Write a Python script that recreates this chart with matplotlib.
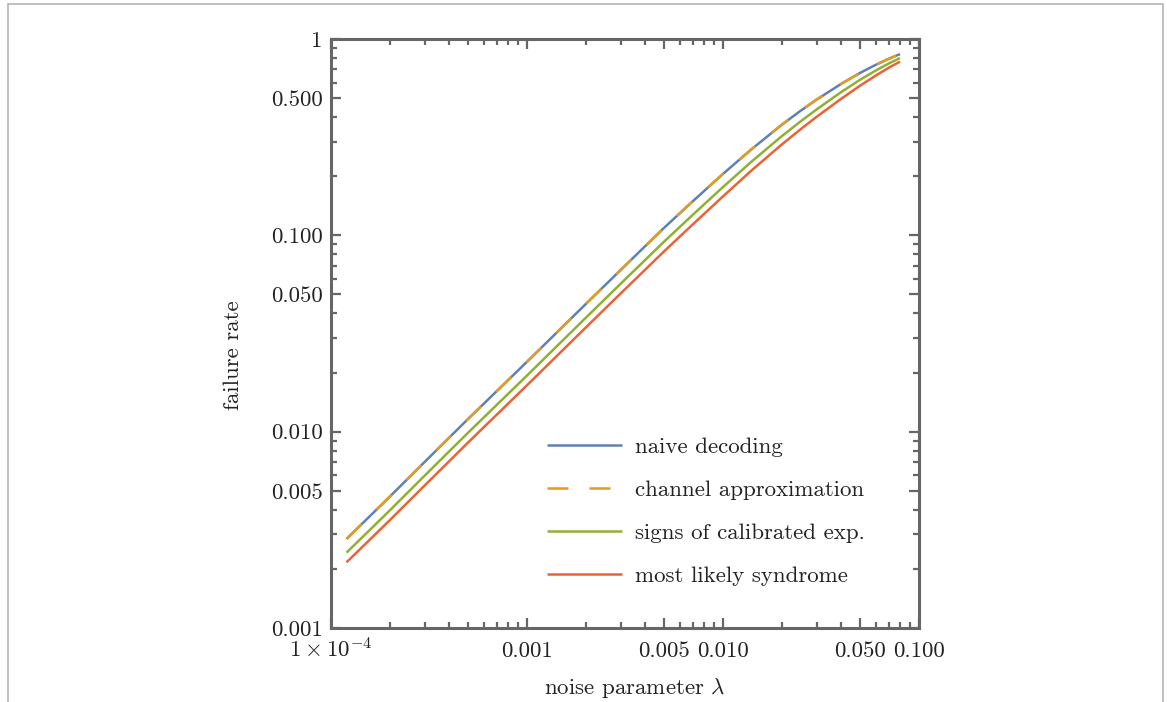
import matplotlib
matplotlib.use("Agg")
import matplotlib.pyplot as plt
from matplotlib.ticker import LogLocator, NullFormatter, FixedLocator, FixedFormatter
from matplotlib.patches import Rectangle

# ---- data ----
noise = [1.2e-4, 2e-4, 3e-4, 5e-4, 1e-3, 2e-3, 3e-3, 5e-3, 7e-3, 1e-2, 1.4e-2, 2e-2,
         2.5e-2, 3e-2, 4e-2, 5e-2, 6e-2, 7e-2, 8e-2]
naive = [0.00284, 0.00468, 0.00700, 0.0116, 0.0227, 0.0448, 0.0665, 0.1091, 0.1489, 0.2056,
         0.2748, 0.3664, 0.4325, 0.4909, 0.5902, 0.6714, 0.7379, 0.7925, 0.8375]
channel = [0.00284, 0.00468, 0.00700, 0.0116, 0.0227, 0.0448, 0.0665, 0.1091, 0.1489, 0.2056,
           0.2748, 0.3664, 0.4325, 0.4909, 0.5902, 0.6714, 0.7379, 0.7925, 0.8375]
signs = [0.00242, 0.00398, 0.00596, 0.00987, 0.01932, 0.03812, 0.0566, 0.0928, 0.1270, 0.1762,
         0.2377, 0.3206, 0.3819, 0.4374, 0.5359, 0.6197, 0.6899, 0.7497, 0.7998]
mls = [0.00216, 0.00355, 0.00531, 0.00880, 0.01723, 0.0340, 0.0505, 0.0828, 0.1135, 0.1579,
       0.2143, 0.2909, 0.3482, 0.4011, 0.4952, 0.5781, 0.6501, 0.7133, 0.7672]

xtick_vals = [1e-4, 1e-3, 5e-3, 1e-2, 5e-2, 1e-1]
xtick_labels = [r"$1\times10^{-4}$", "0.001", "0.005", "0.010", "0.050", "0.100"]
ytick_vals = [1e-3, 5e-3, 1e-2, 5e-2, 1e-1, 5e-1, 1]
ytick_labels = ["0.001", "0.005", "0.010", "0.050", "0.100", "0.500", "1"]

labels = ["naive decoding", "channel approximation", "signs of calibrated exp.", "most likely syndrome"]
colors = ["#5E81B5", "#E19C24", "#8FB032", "#EB6235"]

plt.rcParams["font.family"] = ["cmr10", "DejaVu Serif"]
plt.rcParams["mathtext.fontset"] = "cm"
plt.rcParams["axes.formatter.use_mathtext"] = True

FS = 16.5
W, H = 1167, 702
fig = plt.figure(figsize=(W / 100, H / 100), dpi=100)
ax = fig.add_axes([331 / W, 1 - 628 / H, (919 - 331) / W, (628 - 39) / H])

lw = 1.8
ax.plot(noise, naive, color=colors[0], lw=lw, label=labels[0], solid_capstyle="butt")
ax.plot(noise, channel, color=colors[1], lw=lw, label=labels[1], dashes=(8.4, 8.4), dash_capstyle="butt")
ax.plot(noise, signs, color=colors[2], lw=lw, label=labels[2], solid_capstyle="butt")
ax.plot(noise, mls, color=colors[3], lw=lw, label=labels[3], solid_capstyle="butt")

ax.set_xscale("log")
ax.set_yscale("log")
ax.set_xlim(1e-4, 1e-1)
ax.set_ylim(1e-3, 1)

ax.xaxis.set_major_locator(FixedLocator(xtick_vals))
ax.xaxis.set_major_formatter(FixedFormatter(xtick_labels))
ax.yaxis.set_major_locator(FixedLocator(ytick_vals))
ax.yaxis.set_major_formatter(FixedFormatter(ytick_labels))
ax.xaxis.set_minor_locator(LogLocator(base=10, subs=range(1, 10), numticks=20))
ax.yaxis.set_minor_locator(LogLocator(base=10, subs=range(1, 10), numticks=20))
ax.xaxis.set_minor_formatter(NullFormatter())
ax.yaxis.set_minor_formatter(NullFormatter())

spine_col = "#666666"
for s in ax.spines.values():
    s.set_color(spine_col)
    s.set_linewidth(2.2)

ax.tick_params(which="both", direction="in", top=True, right=True, color=spine_col,
               labelsize=FS, labelcolor="#222222")
ax.tick_params(which="major", length=7, width=1.6)
ax.tick_params(which="minor", length=4.5, width=1.6)
ax.tick_params(axis="x", which="major", pad=21)
ax.tick_params(axis="y", which="major", pad=6)
for t in ax.get_xticklabels():
    t.set_va("baseline")

fig.text(635 / W, 1 - 688 / H, r"noise parameter $\lambda$", ha="center", va="center",
         fontsize=FS, color="#222222")
fig.text(233 / W, 1 - 355 / H, "failure rate", ha="center", va="center", rotation=90,
         fontsize=FS, color="#222222")

ax.legend(loc="upper left", bbox_to_anchor=((547 - 331) / 588, (628 - 437) / 589),
          frameon=False, fontsize=FS, handlelength=3.26, handletextpad=0.6,
          labelspacing=1.0, borderpad=0, borderaxespad=0, labelcolor="#222222")

fig.patches.append(Rectangle((8 / W, -0.05), (1163 - 8) / W, 1.05 - 4 / H,
                             transform=fig.transFigure, fill=False,
                             edgecolor="#b4b4b4", lw=1.2))

fig.savefig("out.png", dpi=100)
